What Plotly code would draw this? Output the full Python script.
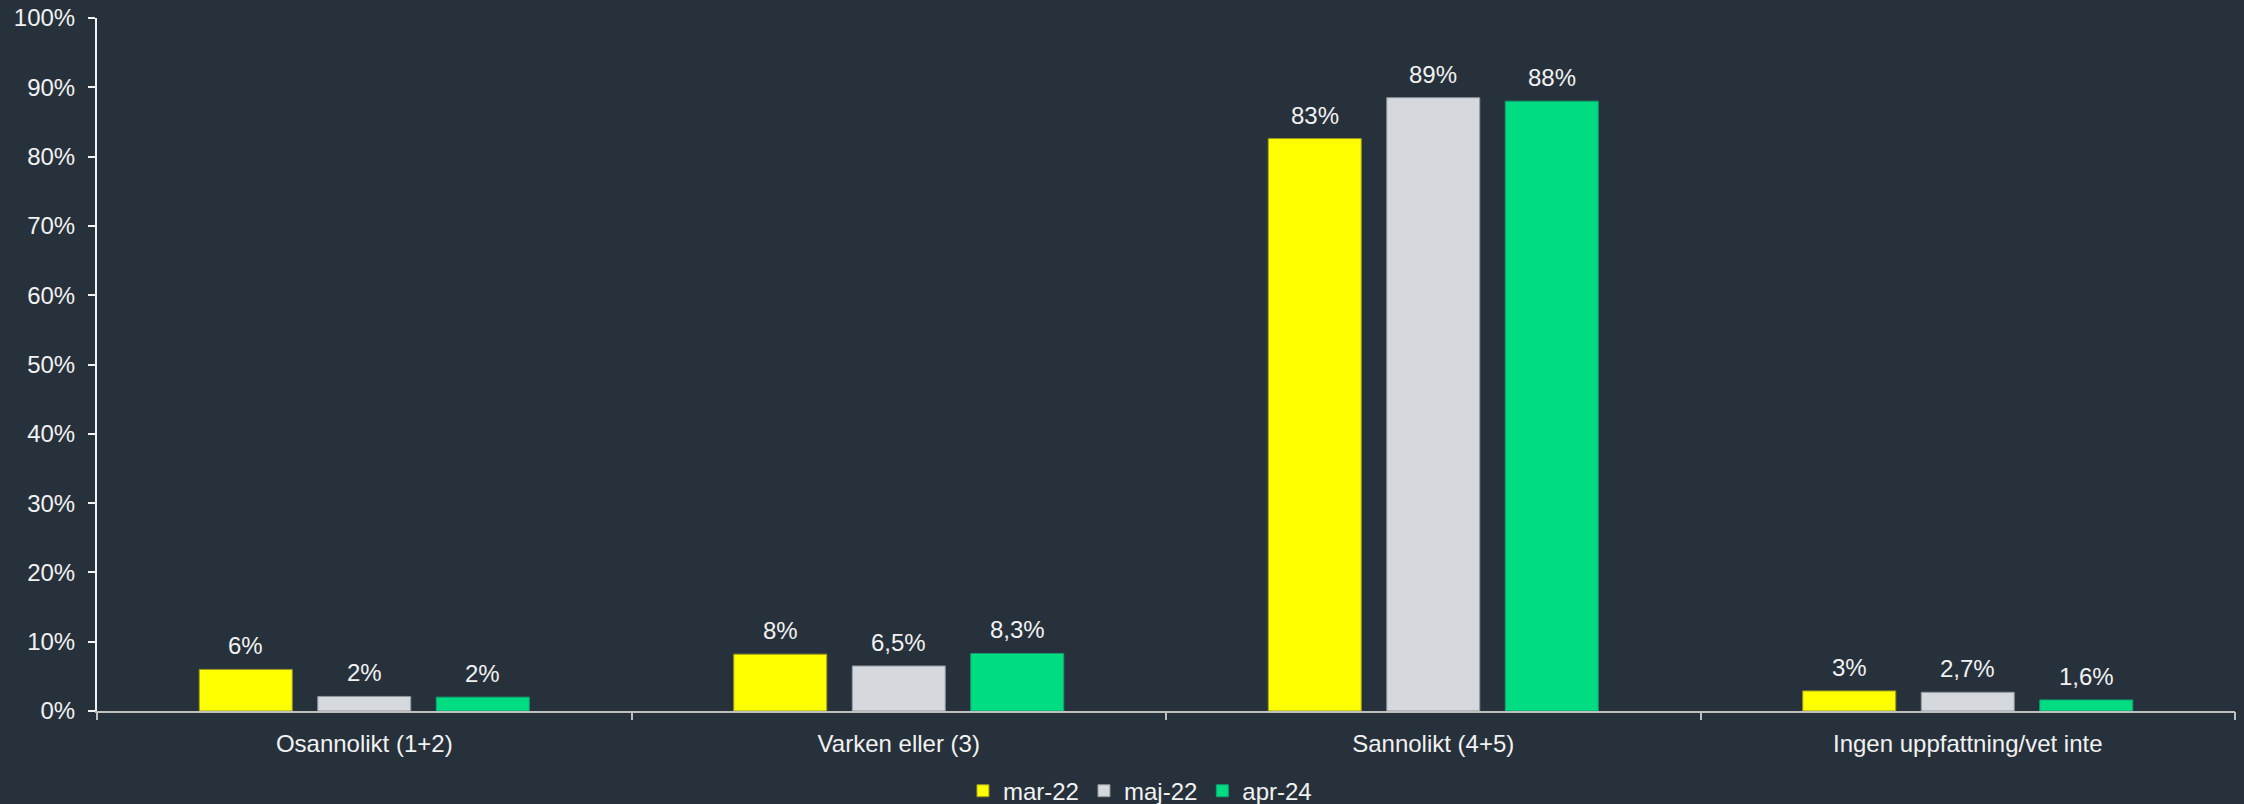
import plotly.graph_objects as go

categories = ["Osannolikt (1+2)", "Varken eller (3)", "Sannolikt (4+5)", "Ingen uppfattning/vet inte"]
series_names = ["mar-22", "maj-22", "apr-24"]
mar22 = [6.0, 8.2, 82.6, 2.9]
maj22 = [2.1, 6.5, 88.5, 2.7]
apr24 = [2.0, 8.3, 88.0, 1.6]
mar22_labels = ["6%", "8%", "83%", "3%"]
maj22_labels = ["2%", "6,5%", "89%", "2,7%"]
apr24_labels = ["2%", "8,3%", "88%", "1,6%"]
y_ticks = [0, 10, 20, 30, 40, 50, 60, 70, 80, 90, 100]
y_tick_labels = [f"{v}%" for v in y_ticks]

colors = ["#FFFF00", "#D5D8DC", "#00DC82"]
line_colors = ["#9a9a20", "#8f959c", "#10a070"]
bg = "#27313C"
txt = "#F2F2F2"
FONT = "Liberation Sans, Arial"
FS = 24

bar_w = 0.174
centers = [-0.2217, 0.0, 0.2217]

fig = go.Figure()
all_vals = [mar22, maj22, apr24]
all_labels = [mar22_labels, maj22_labels, apr24_labels]
for k, (name, vals) in enumerate(zip(series_names, all_vals)):
    fig.add_trace(go.Bar(
        x=list(range(len(categories))), y=vals, name=name,
        width=bar_w, offset=centers[k] - bar_w / 2,
        marker=dict(color=colors[k], line=dict(color=line_colors[k], width=1)),
        hoverinfo="skip",
    ))
    for i, (v, lab) in enumerate(zip(vals, all_labels[k])):
        fig.add_annotation(x=i + centers[k], y=v, text=lab, showarrow=False,
                           yanchor="bottom", yshift=8,
                           font=dict(family=FONT, size=FS, color=txt))

fig.update_layout(
    width=2244, height=804,
    paper_bgcolor=bg, plot_bgcolor=bg,
    margin=dict(l=97, r=9, t=17.5, b=93.3, autoexpand=False),
    barmode="overlay",
    font=dict(family=FONT, size=FS, color=txt),
    showlegend=True,
    legend=dict(orientation="h", xref="container", x=0.508, xanchor="center",
                yref="container", y=0.016, yanchor="middle",
                font=dict(size=FS, color=txt), bgcolor="rgba(0,0,0,0)",
                traceorder="normal"),
    xaxis=dict(
        tickmode="array", tickvals=list(range(len(categories))), ticktext=categories,
        range=[-0.5, len(categories) - 0.5], automargin=False,
        showline=True, linecolor="#BFBFBF", linewidth=2,
        ticks="", showgrid=False, zeroline=False, ticklabelstandoff=10,
        tickfont=dict(size=FS, color=txt),
    ),
    yaxis=dict(
        range=[0, 100], tickmode="array", tickvals=y_ticks, ticktext=y_tick_labels,
        showline=True, linecolor="#F2F2F2", linewidth=2, automargin=False,
        ticks="outside", ticklen=7, tickcolor="#F2F2F2", tickwidth=2,
        showgrid=False, zeroline=False, ticklabelstandoff=8,
        tickfont=dict(size=FS, color=txt),
    ),
)
# category boundary ticks on the x axis
fig.update_layout(xaxis2=dict(
    overlaying="x", anchor="y", range=[-0.5, len(categories) - 0.5], automargin=False,
    tickmode="array", tickvals=[-0.5, 0.5, 1.5, 2.5, 3.5], ticktext=[""] * 5,
    ticks="outside", ticklen=8, tickcolor="#BFBFBF", tickwidth=2,
    showline=False, showgrid=False, zeroline=False, side="bottom",
))
fig.add_trace(go.Scatter(x=[0], y=[0], xaxis="x2", yaxis="y", mode="markers",
                         marker=dict(opacity=0), showlegend=False, hoverinfo="skip"))

fig.write_html("out.html")
